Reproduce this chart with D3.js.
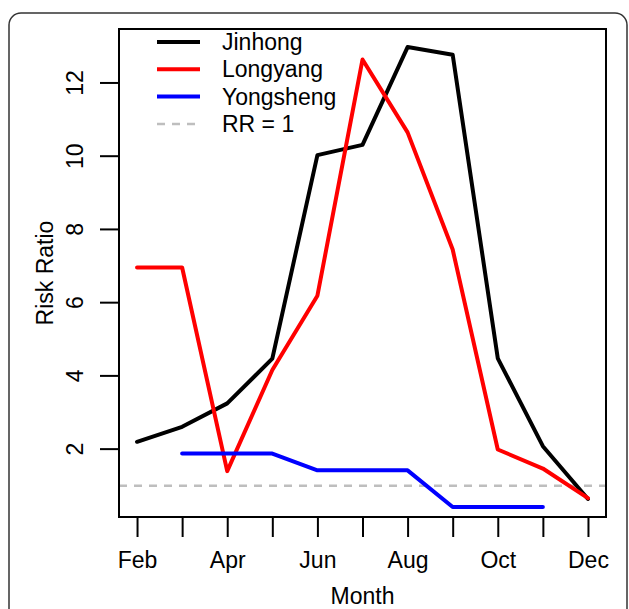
<!DOCTYPE html>
<html>
<head>
<meta charset="utf-8">
<script src="https://cdn.jsdelivr.net/npm/d3@7"></script>
<style>
  body { margin: 0; background: #fff; }
  svg text { font-family: "Liberation Sans", Arial, sans-serif; fill: #000; }
</style>
</head>
<body>
<div id="chart"></div>
<script>
// months shown on the axis (numeric month, label)
var months = [2, 3, 4, 5, 6, 7, 8, 9, 10, 11, 12];
var monthLabels = {2: "Feb", 4: "Apr", 6: "Jun", 8: "Aug", 10: "Oct", 12: "Dec"};
var yTicks = [2, 4, 6, 8, 10, 12];

// risk ratio per month
var jinhong   = [2.20, 2.61, 3.25, 4.47, 10.03, 10.31, 12.98, 12.77, 4.48, 2.08, 0.64];
var longyang  = [6.96, 6.96, 1.40, 4.16, 6.19, 12.64, 10.65, 7.45, 1.99, 1.47, 0.66];
var yongshengMonths = [3, 4, 5, 6, 7, 8, 9, 10, 11];
var yongsheng = [1.88, 1.88, 1.88, 1.42, 1.42, 1.42, 0.42, 0.42, 0.42];

var seriesNames  = ["Jinhong", "Longyang", "Yongsheng"];
var seriesColors = ["#000000", "#ff0000", "#0000ff"];

var W = 629, H = 609;
var margin = {top: 29, right: 23, bottom: 92, left: 119},
    width = W - margin.left - margin.right,
    height = H - margin.top - margin.bottom;

var svg = d3.select("#chart")
  .append("svg")
    .attr("width", W)
    .attr("height", H);

// rounded frame around the panel
svg.append("rect")
    .attr("x", 9).attr("y", 13)
    .attr("width", 618).attr("height", 620)
    .attr("rx", 12).attr("ry", 12)
    .style("fill", "none")
    .style("stroke", "#333")
    .style("stroke-width", 1.5);

var g = svg.append("g")
    .attr("transform", "translate(" + margin.left + "," + margin.top + ")");

// R style 4% padding; y limits come from the first series plotted
var x = d3.scaleLinear()
    .domain([2 - 0.4, 12 + 0.4])
    .range([0, width]);

var ext = d3.extent(jinhong), pad = (ext[1] - ext[0]) * 0.04;
var y = d3.scaleLinear()
    .domain([ext[0] - pad, ext[1] + pad])
    .range([height, 0]);

// RR = 1 reference
g.append("line")
    .attr("x1", 0).attr("x2", width)
    .attr("y1", y(1)).attr("y2", y(1))
    .style("stroke", "#bebebe")
    .style("stroke-width", 2.5)
    .style("stroke-dasharray", "8,7");

var line = d3.line()
    .x(function(d) { return x(d[0]); })
    .y(function(d) { return y(d[1]); });

var allData = [
  months.map(function(m, i) { return [m, jinhong[i]]; }),
  months.map(function(m, i) { return [m, longyang[i]]; }),
  yongshengMonths.map(function(m, i) { return [m, yongsheng[i]]; })
];

allData.forEach(function(d, i) {
  g.append("path")
    .datum(d)
    .attr("d", line)
    .style("fill", "none")
    .style("stroke", seriesColors[i])
    .style("stroke-width", 4)
    .style("stroke-linejoin", "round")
    .style("stroke-linecap", "round");
});

// box
g.append("rect")
    .attr("width", width).attr("height", height)
    .style("fill", "none")
    .style("stroke", "#000")
    .style("stroke-width", 2);

// x axis, detached like base R
var xAxis = g.append("g")
    .attr("transform", "translate(0," + height + ")")
    .call(d3.axisBottom(x)
      .tickValues(months)
      .tickSize(20)
      .tickPadding(15)
      .tickFormat(function(d) { return monthLabels[d] || ""; }));
xAxis.select(".domain").remove();
xAxis.selectAll("line").style("stroke", "#000").style("stroke-width", 2);
xAxis.selectAll("text")
    .style("font-size", "23px")
    .attr("dy", "0.71em");

// y axis
var yAxis = g.append("g")
    .call(d3.axisLeft(y).tickValues(yTicks).tickSize(19));
yAxis.select(".domain").remove();
yAxis.selectAll(".tick").attr("transform", null);
yAxis.selectAll(".tick line")
    .attr("y1", function(d) { return y(d); })
    .attr("y2", function(d) { return y(d); })
    .style("stroke", "#000").style("stroke-width", 2);
yAxis.selectAll("text")
    .style("font-size", "23px")
    .style("text-anchor", "middle")
    .attr("x", -44)
    .attr("y", function(d) { return y(d); })
    .attr("dy", "0.35em")
    .attr("transform", function(d) { return "rotate(-90," + (-44) + "," + y(d) + ")"; });

// axis titles
svg.append("text")
    .attr("x", margin.left + x(7))
    .attr("y", 604)
    .style("text-anchor", "middle")
    .style("font-size", "23px")
    .text("Month");

svg.append("text")
    .attr("transform", "translate(53," + (margin.top + height / 2) + ") rotate(-90)")
    .style("text-anchor", "middle")
    .style("font-size", "23px")
    .text("Risk Ratio");

// legend
var legendNames  = seriesNames.concat(["RR = 1"]);
var legendColors = seriesColors.concat(["#bebebe"]);
var legend = svg.append("g").attr("transform", "translate(157,42)");
legendNames.forEach(function(name, i) {
  var row = legend.append("g").attr("transform", "translate(0," + (i * 27.3) + ")");
  row.append("line")
    .attr("x1", 0).attr("x2", 43)
    .style("stroke", legendColors[i])
    .style("stroke-width", i < 3 ? 4 : 2.5)
    .style("stroke-dasharray", i < 3 ? null : "8,7");
  row.append("text")
    .attr("x", 65)
    .attr("dy", "0.35em")
    .style("font-size", "23px")
    .text(name);
});
</script>
</body>
</html>
